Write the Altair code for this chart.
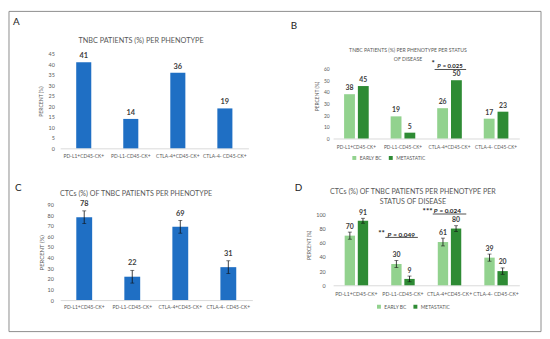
import altair as alt
import pandas as pd

phenotypes = ["PD-L1+CD45-CK+", "PD-L1-CD45-CK+", "CTLA-4+CD45-CK+", "CTLA-4- CD45-CK+"]
status = ["EARLY BC", "METASTATIC"]

a_values = [41, 14, 36, 19]
b_early = [38, 19, 26, 17]
b_metastatic = [45, 5, 50, 23]
c_values = [78, 22, 69, 31]
c_errors = [6, 6, 6, 6]
d_early = [70, 30, 61, 39]
d_early_err = [5, 5, 5.5, 5]
d_metastatic = [91, 9, 80, 20]
d_metastatic_err = [3.5, 4, 4, 4.5]

title_a = "TNBC PATIENTS (%) PER PHENOTYPE"
title_b = ["TNBC PATIENTS (%) PER PHENOTYPE PER STATUS", "OF DISEASE"]
title_c = "CTCs (%) OF TNBC PATIENTS PER PHENOTYPE"
title_d = ["CTCs (%) OF TNBC PATIENTS PER PHENOTYPE PER", "STATUS OF DISEASE"]

FONT = "Lato"
BLUE = "#1f6fc4"
LIGHT = "#92d28e"
DARK = "#2e8b34"
GREY = "#595959"
one = pd.DataFrame({"k": [0]})


def xenc(label_size, label_pad, pi=0.0, po=0.0, axis=True, **kw):
    ax = alt.Axis(labelAngle=0, labelFontSize=label_size, labelPadding=label_pad, ticks=False,
                  domainColor="#d9d9d9", labelColor=GREY, labelFont=FONT, grid=False,
                  labelOverlap=False) if axis else None
    args = dict(sort=phenotypes, title=None, scale=alt.Scale(paddingInner=pi, paddingOuter=po))
    if ax is not None:
        args["axis"] = ax
    args.update(kw)
    return alt.X("phenotype:N", **args)


def yenc(maxv, ticks, label_size, label_pad, title_size, title_pad):
    return alt.Y("value:Q", title="PERCENT (%)",
                 scale=alt.Scale(domain=[0, maxv], nice=False, zero=True),
                 axis=alt.Axis(values=ticks, ticks=False, domain=False, grid=False,
                               labelOverlap=False, labelFlush=False, tickCount=len(ticks),
                               labelFontSize=label_size, labelPadding=label_pad, labelColor=GREY,
                               labelFont=FONT, titleFont=FONT, titleFontSize=title_size,
                               titleColor=GREY, titleFontWeight="normal", titlePadding=title_pad))


def deco_text(text, x, y, size, color=GREY, weight="normal", line_height=None, align="center"):
    kw = dict(text=text, fontSize=size, color=color, font=FONT, fontWeight=weight,
              align=align, baseline="middle")
    if line_height is not None:
        kw["lineHeight"] = line_height
    return alt.Chart(one).mark_text(**kw).encode(x=alt.value(x), y=alt.value(y))


# ---------------- Panel A ----------------
dfA = pd.DataFrame({"phenotype": phenotypes, "value": a_values})
yA = yenc(45, list(range(0, 46, 5)), 5.5, 6, 5.2, 5)
barsA = alt.Chart(dfA).mark_bar(color=BLUE).encode(
    x=xenc(5, 5, 0.68, 0.34), y=yA)
labA = alt.Chart(dfA).mark_text(dy=-6, fontSize=7.5, color="#404040", font=FONT, fontWeight="bold").encode(
    x=xenc(5, 5, 0.68, 0.34), y="value:Q", text="value:Q")
frame = alt.Chart(one).mark_rect(fillOpacity=0, stroke="#8c8c8c", strokeWidth=1).encode(
    x=alt.value(-52), x2=alt.value(488), y=alt.value(-43), y2=alt.value(282))
panelA = alt.layer(
    barsA, labA,
    deco_text(title_a, 82, -13, 7.4),
    deco_text("A", -48, -32, 10, color="#222222", align="left"),
    frame,
).properties(width=191, height=96)

# ---------------- Panel B ----------------
dfB = pd.DataFrame({
    "phenotype": phenotypes * 2,
    "status": [status[0]] * 4 + [status[1]] * 4,
    "value": b_early + b_metastatic,
})
offB = alt.XOffset("status:N", sort=status, scale=alt.Scale(paddingInner=0.214, paddingOuter=0.795))
colB = alt.Color("status:N", sort=status, scale=alt.Scale(domain=status, range=[LIGHT, DARK]),
                 legend=alt.Legend(orient="none", legendX=19, legendY=103, direction="horizontal",
                                   title=None, symbolType="square", symbolSize=16, symbolStrokeWidth=0,
                                   labelFontSize=5, labelFont=FONT, labelColor=GREY,
                                   columnPadding=6, labelOffset=3))
yB = yenc(72.7, list(range(0, 61, 10)), 5, 4, 5, 4)
xb = lambda **kw: xenc(4.8, 6, **kw)
barsB = alt.Chart(dfB).mark_bar().encode(x=xb(), xOffset=offB, y=yB, color=colB)
labB = alt.Chart(dfB).mark_text(dy=-6, fontSize=7, color="#404040", font=FONT, fontWeight="bold").encode(
    x=xb(), xOffset=offB, y="value:Q", text="value:Q")
sigB = pd.DataFrame({"phenotype": ["CTLA-4+CD45-CK+"], "value": [59.2]})
sigB_txt = pd.DataFrame({"phenotype": ["CTLA-4+CD45-CK+"], "value": [62.5]})
sigB_star = pd.DataFrame({"phenotype": ["CTLA-4+CD45-CK+"], "value": [64.2]})
ulB = alt.Chart(sigB).mark_rule(color="#222222", strokeWidth=0.8).encode(
    x=xb(bandPosition=0.18), x2=alt.X2("phenotype", bandPosition=0.857), y="value:Q")
pB = alt.Chart(sigB_txt).mark_text(text="P", fontStyle="italic", fontWeight="bold", fontSize=6,
                                   font=FONT, align="right", baseline="middle", color="#222222").encode(
    x=xb(bandPosition=0.31), y="value:Q")
vB = alt.Chart(sigB_txt).mark_text(text="= 0.025", fontWeight="bold", fontSize=6, dx=2,
                                   font=FONT, align="left", baseline="middle", color="#222222").encode(
    x=xb(bandPosition=0.31), y="value:Q")
sB = alt.Chart(sigB_star).mark_text(text="*", fontWeight="bold", fontSize=8,
                                    font=FONT, align="center", baseline="middle", color="#222222").encode(
    x=xb(bandPosition=0.15), y="value:Q")
panelB = alt.layer(
    barsB, labB, ulB, pB, vB, sB,
    deco_text(title_b, 76, -3.5, 5.2, line_height=9),
    deco_text("B", -43, -28, 10, color="#222222", align="left"),
).properties(width=189, height=86)

# ---------------- Panel C ----------------
dfC = pd.DataFrame({"phenotype": phenotypes, "value": c_values, "err": c_errors})
dfC["lo"] = dfC["value"] - dfC["err"]
dfC["hi"] = dfC["value"] + dfC["err"]
yC = yenc(90, list(range(0, 91, 10)), 5.5, 7, 6, 3)
xc = lambda **kw: xenc(5, 5, 0.67, 0.335, **kw)
barsC = alt.Chart(dfC).mark_bar(color=BLUE).encode(x=xc(), y=yC)
errC = alt.Chart(dfC).mark_rule(color="#111111", strokeWidth=0.8).encode(x=xc(), y="lo:Q", y2="hi:Q")
capCl = alt.Chart(dfC).mark_tick(color="#111111", size=4, thickness=0.8).encode(x=xc(), y="lo:Q")
capCh = alt.Chart(dfC).mark_tick(color="#111111", size=4, thickness=0.8).encode(x=xc(), y="hi:Q")
labC = alt.Chart(dfC).mark_text(dy=-7, fontSize=7.5, color="#404040", font=FONT, fontWeight="bold").encode(
    x=xc(), y="hi:Q", text="value:Q")
panelC = alt.layer(
    barsC, errC, capCl, capCh, labC,
    deco_text(title_c, 77, -11, 7.25),
    deco_text("C", -46, -17, 10, color="#222222", align="left"),
).properties(width=195, height=97)

# ---------------- Panel D ----------------
dfD = pd.DataFrame({
    "phenotype": phenotypes * 2,
    "status": [status[0]] * 4 + [status[1]] * 4,
    "value": d_early + d_metastatic,
    "err": d_early_err + d_metastatic_err,
})
dfD["lo"] = dfD["value"] - dfD["err"]
dfD["hi"] = dfD["value"] + dfD["err"]
offD = alt.XOffset("status:N", sort=status, scale=alt.Scale(paddingInner=0.21, paddingOuter=0.88))
colD = alt.Color("status:N", sort=status, scale=alt.Scale(domain=status, range=[LIGHT, DARK]),
                 legend=alt.Legend(orient="none", legendX=44, legendY=101, direction="horizontal",
                                   title=None, symbolType="square", symbolSize=16, symbolStrokeWidth=0,
                                   labelFontSize=5, labelFont=FONT, labelColor=GREY,
                                   columnPadding=6, labelOffset=3))
yD = yenc(113.9, list(range(0, 101, 20)), 5.5, 8, 5, 4)
xd = lambda **kw: xenc(5.2, 6, **kw)
barsD = alt.Chart(dfD).mark_bar().encode(x=xd(), xOffset=offD, y=yD, color=colD)
errD = alt.Chart(dfD).mark_rule(color="#111111", strokeWidth=0.8).encode(
    x=xd(), xOffset=offD, y="lo:Q", y2="hi:Q")
capDl = alt.Chart(dfD).mark_tick(color="#111111", size=4, thickness=0.8).encode(
    x=xd(), xOffset=offD, y="lo:Q")
capDh = alt.Chart(dfD).mark_tick(color="#111111", size=4, thickness=0.8).encode(
    x=xd(), xOffset=offD, y="hi:Q")
labD = alt.Chart(dfD).mark_text(dy=-5.5, fontSize=7, color="#404040", font=FONT, fontWeight="bold").encode(
    x=xd(), xOffset=offD, y="hi:Q", text="value:Q")

sig1 = pd.DataFrame({"phenotype": ["PD-L1-CD45-CK+"], "value": [67.5]})
sig1_txt = pd.DataFrame({"phenotype": ["PD-L1-CD45-CK+"], "value": [71.5]})
sig1_star = pd.DataFrame({"phenotype": ["PD-L1-CD45-CK+"], "value": [72]})
sig2 = pd.DataFrame({"phenotype": ["CTLA-4+CD45-CK+"], "value": [100.5]})
sig2_txt = pd.DataFrame({"phenotype": ["CTLA-4+CD45-CK+"], "value": [104]})
sig2_star = pd.DataFrame({"phenotype": ["CTLA-4+CD45-CK+"], "value": [103]})


def sig_layers(d_line, d_txt, d_star, b0, b1, bp, pval, stars, bstar):
    ul = alt.Chart(d_line).mark_rule(color="#222222", strokeWidth=0.8).encode(
        x=xd(bandPosition=b0), x2=alt.X2("phenotype", bandPosition=b1), y="value:Q")
    p = alt.Chart(d_txt).mark_text(text="P", fontStyle="italic", fontWeight="bold", fontSize=6.5,
                                   font=FONT, align="right", baseline="middle", color="#222222").encode(
        x=xd(bandPosition=bp), y="value:Q")
    v = alt.Chart(d_txt).mark_text(text="= " + pval, fontWeight="bold", fontSize=6.5, dx=2,
                                   font=FONT, align="left", baseline="middle", color="#222222").encode(
        x=xd(bandPosition=bp), y="value:Q")
    s = alt.Chart(d_star).mark_text(text=stars, fontWeight="bold", fontSize=8,
                                    font=FONT, align="center", baseline="middle", color="#222222").encode(
        x=xd(bandPosition=bstar), y="value:Q")
    return [ul, p, v, s]


panelD = alt.layer(
    barsD, errD, capDl, capDh, labD,
    *sig_layers(sig1, sig1_txt, sig1_star, 0.12, 0.82, 0.25, "0.049", "**", 0.04),
    *sig_layers(sig2, sig2_txt, sig2_star, 0.14, 0.86, 0.24, "0.024", "***", 0.03),
    deco_text(title_d, 81, -13, 7.2, line_height=10),
    deco_text("D", -39, -17, 10, color="#222222", align="left"),
).properties(width=189, height=82)

chart = alt.concat(
    panelA, panelB, panelC, panelD,
    columns=2, bounds="flush", spacing={"row": 57, "column": 82},
).resolve_scale(
    x="independent", y="independent", color="independent", xOffset="independent"
).resolve_legend(color="independent").configure_view(strokeWidth=0).configure_axisY(
    labelOverlap=False
).properties(
    padding=0, background="white"
)

chart.save("out.html", embed_options={"renderer": "svg", "actions": False})
